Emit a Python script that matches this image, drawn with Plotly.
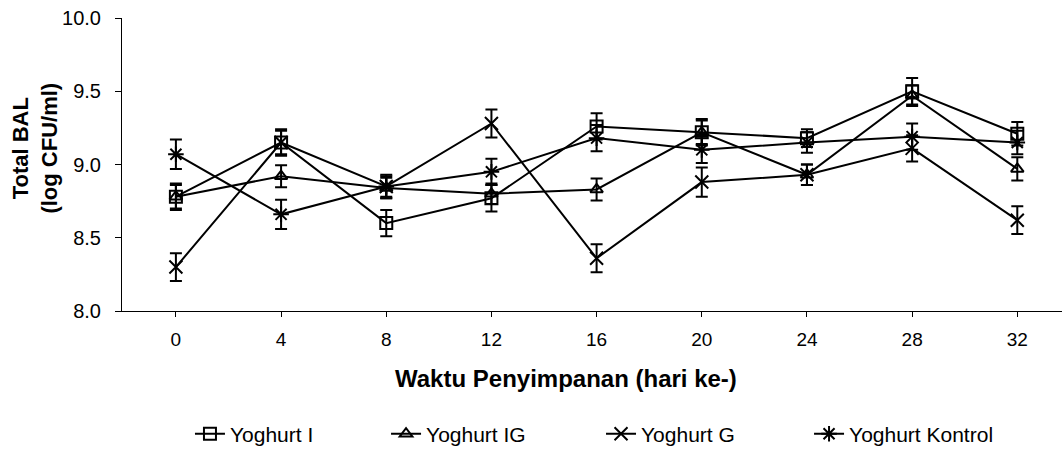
import plotly.graph_objects as go

days = [0, 4, 8, 12, 16, 20, 24, 28, 32]
yog_i = [8.78, 9.15, 8.60, 8.77, 9.26, 9.22, 9.18, 9.50, 9.21]
yog_ig = [8.78, 8.92, 8.84, 8.80, 8.83, 9.22, 8.93, 9.47, 8.97]
yog_g = [8.30, 9.15, 8.85, 9.28, 8.36, 8.88, 8.93, 9.11, 8.62]
yog_k = [9.07, 8.66, 8.85, 8.95, 9.18, 9.10, 9.15, 9.19, 9.15]
err_i = [0.09, 0.08, 0.09, 0.09, 0.09, 0.09, 0.06, 0.09, 0.08]
err_ig = [0.08, 0.075, 0.07, 0.07, 0.075, 0.08, 0.07, 0.07, 0.08]
err_g = [0.095, 0.09, 0.08, 0.095, 0.095, 0.1, 0.07, 0.09, 0.095]
err_k = [0.1, 0.1, 0.07, 0.09, 0.09, 0.09, 0.07, 0.09, 0.08]

names = ["Yoghurt I", "Yoghurt IG", "Yoghurt G", "Yoghurt Kontrol"]
series = [yog_i, yog_ig, yog_g, yog_k]
errors = [err_i, err_ig, err_g, err_k]
symbols = ["square-open", "triangle-up-open", "x-thin-open", "asterisk-open"]
sizes = [12, 11, 13, 13]
legend_ids = ["legend", "legend2", "legend3", "legend4"]
legend_x = [0.0723, 0.2809, 0.5096, 0.7309]

font = "Liberation Sans, Arial, sans-serif"

fig = go.Figure()
for n, y, e, s, sz, lg in zip(names, series, errors, symbols, sizes, legend_ids):
    fig.add_trace(go.Scatter(
        x=days, y=y, name=n, mode="lines+markers", legend=lg,
        line=dict(color="black", width=2),
        marker=dict(symbol=s, size=sz, color="black", line=dict(color="black", width=2)),
        error_y=dict(type="data", array=e, visible=True, color="black", thickness=2, width=6),
    ))

legend_common = dict(orientation="h", y=-0.42, yanchor="middle", xanchor="left",
                     font=dict(family=font, size=21, color="black"),
                     bgcolor="rgba(0,0,0,0)", itemwidth=30)
layout_legends = {lg: dict(x=lx, **legend_common) for lg, lx in zip(legend_ids, legend_x)}

fig.update_layout(
    width=1062, height=450,
    margin=dict(l=122, r=0, t=18, b=139, autoexpand=False),
    plot_bgcolor="white", paper_bgcolor="white",
    font=dict(family=font, size=19, color="black"),
    showlegend=True,
    **layout_legends,
)
fig.update_xaxes(range=[-2.05, 33.7], tickvals=days, showline=True, linecolor="black",
                 linewidth=1, ticks="outside", ticklen=5, tickcolor="black",
                 showgrid=False, zeroline=False, ticklabelstandoff=6,
                 tickfont=dict(size=19))
fig.update_yaxes(range=[8.0, 10.0], tickvals=[8.0, 8.5, 9.0, 9.5, 10.0], tickformat=".1f",
                 showline=True, linecolor="black", linewidth=1, ticks="outside", ticklen=6,
                 tickcolor="black", showgrid=False, zeroline=False, ticklabelstandoff=10,
                 tickfont=dict(size=20))

fig.add_annotation(text="<b>Waktu Penyimpanan (hari ke-)</b>", xref="paper", yref="paper",
                   x=0.472, y=-0.23, xanchor="center", yanchor="middle", showarrow=False,
                   font=dict(family=font, size=24, color="black"))
fig.add_annotation(text="<b>Total BAL<br>(log CFU/ml)</b>", xref="paper", yref="paper",
                   x=-0.092, y=0.556, xanchor="center", yanchor="middle", showarrow=False,
                   textangle=-90, font=dict(family=font, size=22, color="black"))

fig.write_html("out.html")
